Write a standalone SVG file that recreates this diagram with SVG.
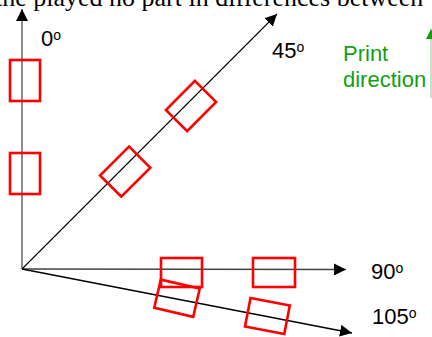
<svg xmlns="http://www.w3.org/2000/svg" width="432" height="337" viewBox="0 0 432 337">
<style>
.lbl{font-family:"Liberation Sans",Arial,sans-serif;font-size:22px;fill:#000}
.sup{font-size:14px}
.grn{font-family:"Liberation Sans",Arial,sans-serif;font-size:22px;fill:#12a012}
.box{fill:none;stroke:#ff0000;stroke-width:2.6}
.ax{fill:none;stroke:#000;stroke-width:1.1}
</style>
<defs>
<marker id="ah" markerUnits="userSpaceOnUse" markerWidth="13" markerHeight="12" refX="12" refY="6" orient="auto">
<path d="M0,0 L12,6 L0,12 z" fill="#000"/>
</marker>
<marker id="ahg" markerUnits="userSpaceOnUse" markerWidth="13" markerHeight="12" refX="10" refY="5" orient="auto">
<path d="M0,0 L10,5 L0,10 z" fill="#12a012"/>
</marker>
</defs>
<rect width="432" height="337" fill="#fff"/>
<text x="-5" y="6" font-family="'Liberation Serif',serif" font-size="26" fill="#000">the played no part in differences between</text>
<g id="connectors">
<line x1="22" y1="269" x2="22" y2="9" class="ax" style="stroke:#707070;stroke-width:1.6" marker-end="url(#ah)"/>
<line x1="22" y1="269" x2="346" y2="269.5" class="ax" style="stroke:#444;stroke-width:1.3" marker-end="url(#ah)"/>
<line x1="22" y1="269" x2="277" y2="14" class="ax" marker-end="url(#ah)"/>
<line x1="22" y1="269" x2="352" y2="333" class="ax" style="stroke-width:1.3" marker-end="url(#ah)"/>
<line x1="431" y1="98" x2="431" y2="29" style="stroke:#9cd49c;stroke-width:1.2" marker-end="url(#ahg)"/>
</g>
<g id="label-0"><text x="41" y="46" class="lbl">0<tspan class="sup" dy="-6">o</tspan></text></g>
<g id="label-45"><text x="272" y="58" class="lbl">45<tspan class="sup" dy="-6">o</tspan></text></g>
<g id="label-90"><text x="371" y="279" class="lbl">90<tspan class="sup" dy="-6">o</tspan></text></g>
<g id="label-105"><text x="372" y="324" class="lbl">105<tspan class="sup" dy="-6">o</tspan></text></g>
<g id="label-print"><text x="343" y="61" class="grn">Print</text><text x="343" y="87" class="grn">direction</text></g>
<g id="box-0a"><rect class="box" x="10" y="60" width="30" height="41"/></g>
<g id="box-0b"><rect class="box" x="10" y="153" width="30" height="41"/></g>
<g id="box-45a"><rect class="box" x="-15" y="-20.5" width="30" height="41" transform="translate(125.2 171.6) rotate(45)"/></g>
<g id="box-45b"><rect class="box" x="-15" y="-20.5" width="30" height="41" transform="translate(191 106) rotate(45)"/></g>
<g id="box-90a"><rect class="box" x="161" y="258" width="41" height="29"/></g>
<g id="box-90b"><rect class="box" x="253" y="258" width="42" height="29"/></g>
<g id="box-105a"><rect class="box" x="-20" y="-14.5" width="40" height="29" transform="translate(177 298.2) rotate(13)"/></g>
<g id="box-105b"><rect class="box" x="-20" y="-14.5" width="40" height="29" transform="translate(267.4 316) rotate(11)"/></g>
</svg>
